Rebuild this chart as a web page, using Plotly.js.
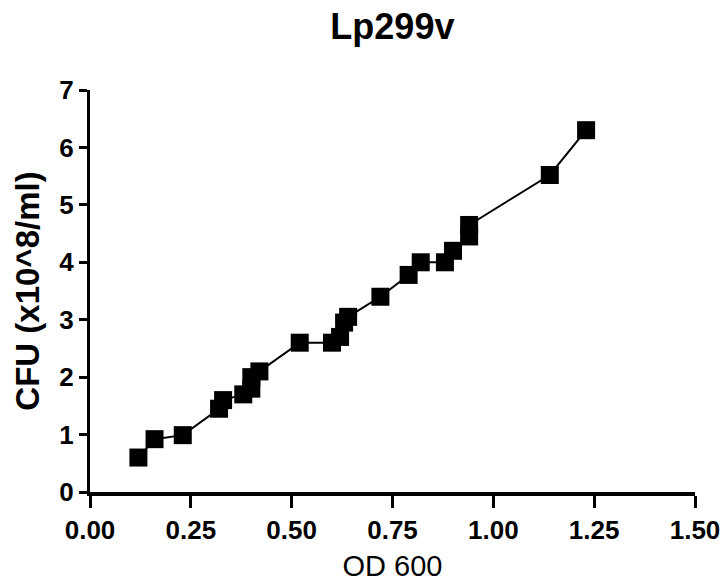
<!DOCTYPE html>
<html>
<head>
<meta charset="utf-8">
<script src="https://cdn.plot.ly/plotly-3.0.1.min.js"></script>
<style>html,body{margin:0;padding:0;background:#fff;}#chart{width:726px;height:588px;}</style>
</head>
<body>
<div id="chart"></div>
<script>
var chartTitle = "Lp299v";
var xTitle = "OD 600";
var yTitle = "CFU (x10^8/ml)";
var od600 = [0.12, 0.16, 0.23, 0.32, 0.33, 0.38, 0.40, 0.40, 0.42, 0.52, 0.60, 0.62, 0.63, 0.64, 0.72, 0.79, 0.82, 0.88, 0.90, 0.94, 0.94, 1.14, 1.23];
var cfu   = [0.6, 0.92, 0.99, 1.45, 1.6, 1.7, 1.8, 2.0, 2.1, 2.6, 2.6, 2.7, 2.95, 3.05, 3.4, 3.78, 4.0, 4.0, 4.2, 4.45, 4.65, 5.52, 6.3];
var xTickVals = [0, 0.25, 0.5, 0.75, 1.0, 1.25, 1.5];
var xTickText = ["0.00", "0.25", "0.50", "0.75", "1.00", "1.25", "1.50"];
var yTickVals = [0, 1, 2, 3, 4, 5, 6, 7];

var trace = {
  x: od600, y: cfu, type: "scatter", mode: "lines+markers",
  line: {color: "#000", width: 2},
  marker: {symbol: "square", size: 18, color: "#000"},
  cliponaxis: false, hoverinfo: "skip"
};
var fontFam = "Liberation Sans, Arial, sans-serif";
var layout = {
  width: 726, height: 588,
  margin: {l: 90, r: 31, t: 90, b: 96, pad: 0},
  paper_bgcolor: "#fff", plot_bgcolor: "#fff",
  showlegend: false,
  title: {text: "<b>" + chartTitle + "</b>", font: {family: fontFam, size: 36, color: "#000"}, x: 0.5405, xanchor: "center", y: 0.977, yanchor: "top"},
  xaxis: {
    range: [0, 1.5], tickvals: xTickVals, ticktext: xTickText,
    showgrid: false, zeroline: false, showline: true, linecolor: "#000", linewidth: 4,
    ticks: "outside", ticklen: 12, tickwidth: 3, tickcolor: "#000",
    tickfont: {family: fontFam, size: 26, color: "#000", weight: "bold"},
    title: {text: xTitle, font: {family: fontFam, size: 29, color: "#000"}, standoff: 12},
    automargin: false
  },
  yaxis: {
    range: [0, 7], tickvals: yTickVals,
    showgrid: false, zeroline: false, showline: true, linecolor: "#000", linewidth: 3,
    ticks: "outside", ticklen: 8, tickwidth: 3, tickcolor: "#000",
    tickfont: {family: fontFam, size: 26, color: "#000", weight: "bold"},
    title: {text: "<b>" + yTitle + "</b>", font: {family: fontFam, size: 33, color: "#000"}, standoff: 10},
    automargin: false
  }
};
Plotly.newPlot("chart", [trace], layout, {displayModeBar: false, staticPlot: true});
</script>
</body>
</html>
